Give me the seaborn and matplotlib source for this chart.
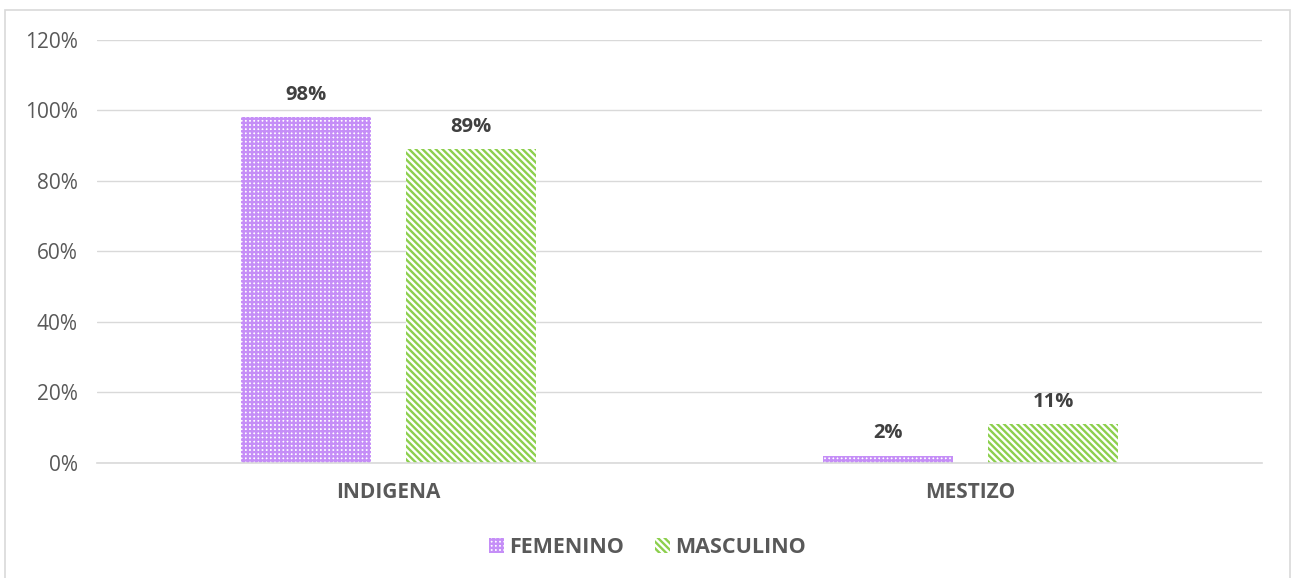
import pandas as pd
import matplotlib.pyplot as plt
import matplotlib.patches as mpatches
import seaborn as sns

# Data
categories = ["INDIGENA", "MESTIZO"]
series_names = ["FEMENINO", "MASCULINO"]
femenino = [0.98, 0.02]
masculino = [0.89, 0.11]
y_ticks = [0, 0.2, 0.4, 0.6, 0.8, 1.0, 1.2]
y_tick_labels = ["0%", "20%", "40%", "60%", "80%", "100%", "120%"]

PURPLE = "#C58EF7"
GREEN = "#8CCF4D"
TEXT = "#595959"
GRID = "#D9D9D9"
HATCH_F = "+" * 4
HATCH_M = "\\" * 5

df = pd.DataFrame({
    "categoria": categories * 2,
    "sexo": [series_names[0]] * 2 + [series_names[1]] * 2,
    "valor": femenino + masculino,
})

sns.set_style("white")
plt.rcParams["font.family"] = ["Open Sans", "DejaVu Sans"]
plt.rcParams["hatch.linewidth"] = 1.7

fig = plt.figure(figsize=(12.95, 5.78), dpi=100)
ax = fig.add_axes([0.0749, 0.199, 0.8996, 0.732])

sns.barplot(data=df, x="categoria", y="valor", hue="sexo", order=categories,
            hue_order=series_names, palette=[PURPLE, GREEN],
            width=0.566, gap=0.21, legend=False, ax=ax)

styles = {
    0: dict(hatch=HATCH_F, color=PURPLE),
    1: dict(hatch=HATCH_M, color=GREEN),
}
for i, container in enumerate(ax.containers):
    for bar in container:
        bar.set_facecolor("white")
        bar.set_edgecolor(styles[i]["color"])
        bar.set_hatch(styles[i]["hatch"])
        bar.set_linewidth(0)
    labels = [f"{v * 100:.0f}%" for v in container.datavalues]
    ax.bar_label(container, labels=labels, padding=9, fontsize=14.5,
                 fontweight="bold", color="#404040")

ax.set_ylim(0, 1.2)
ax.set_xlim(-0.5, 1.5)
ax.set_yticks(y_ticks)
ax.set_yticklabels(y_tick_labels, fontsize=15, color=TEXT)
ax.tick_params(axis="x", labelsize=15, colors=TEXT, length=0, pad=14)
for lbl in ax.get_xticklabels():
    lbl.set_fontweight("bold")
ax.tick_params(axis="y", length=0, pad=14)
ax.yaxis.grid(True, color=GRID, linewidth=1)
ax.set_axisbelow(True)
ax.set_xlabel("")
ax.set_ylabel("")
for side in ["top", "right", "left"]:
    ax.spines[side].set_visible(False)
ax.spines["bottom"].set_color(GRID)
ax.spines["bottom"].set_linewidth(1.2)

handles = [
    mpatches.Patch(facecolor="white", edgecolor=PURPLE, hatch=HATCH_F, linewidth=0, label=series_names[0]),
    mpatches.Patch(facecolor="white", edgecolor=GREEN, hatch=HATCH_M, linewidth=0, label=series_names[1]),
]
leg = fig.legend(handles=handles, loc="center", bbox_to_anchor=(0.5, 0.052), ncol=2,
                 frameon=False, handlelength=0.7, handleheight=0.7, handletextpad=0.25,
                 columnspacing=1.4, prop={"weight": "bold", "size": 15.5})
for t in leg.get_texts():
    t.set_color(TEXT)

# outer chart border
fig.patches.append(mpatches.Rectangle((0.004, -0.01), 0.992, 0.993, transform=fig.transFigure,
                                      fill=False, edgecolor=GRID, linewidth=1.2))

fig.savefig("out.png", dpi=100)
